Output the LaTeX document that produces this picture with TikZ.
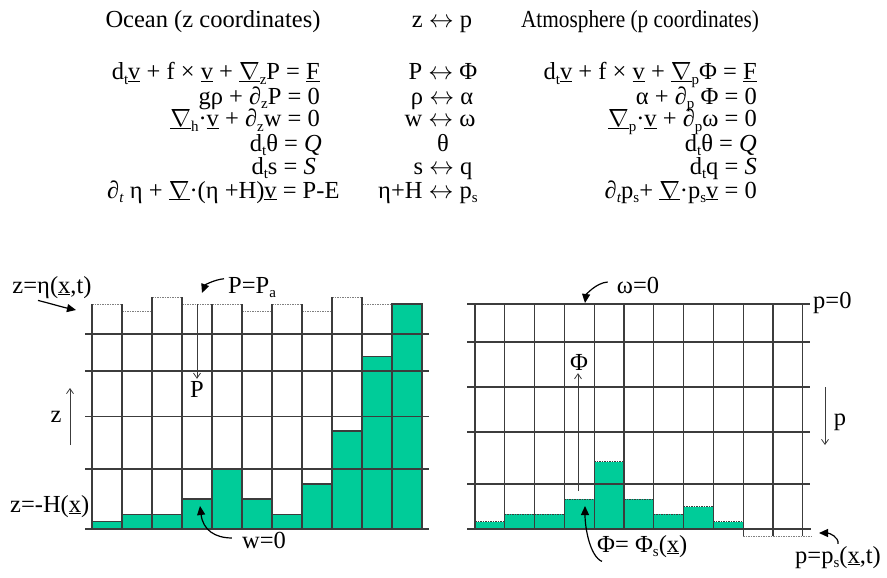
\documentclass[tikz,border=0pt]{standalone}
\usepackage{fontspec}
\setmainfont{Liberation Serif}
\usetikzlibrary{arrows.meta}
\definecolor{grn}{HTML}{00CC99}
\definecolor{gl}{HTML}{3C3C3C}
\newcommand\lo[1]{\raisebox{-0.4ex}{\fontsize{15}{15}\selectfont #1}}
\newcommand\ul[1]{\underline{#1}}
\newcommand\nab{$\nabla$}
\newcommand\lra{$\leftrightarrow$}
\begin{document}
\begin{tikzpicture}[x=1pt,y=-1pt,
  txt/.style={inner sep=0pt, font=\fontsize{24.5}{27}\selectfont},
  gridline/.style={draw=gl, line width=1.2pt},
  dotline/.style={draw=gray, line width=0.8pt, dash pattern=on 1.5pt off 1pt},
  darkdot/.style={draw=gl, line width=0.8pt, dash pattern=on 1.5pt off 1pt},
  thinarrow/.style={draw=gl, line width=0.8pt, -{Straight Barb[length=5pt,width=7pt]}},
  curvearrow/.style={draw=black, line width=1.2pt, -{Triangle[length=9pt,width=8pt]}}]
\useasboundingbox (0,0) rectangle (887,578);

% ---------- headers ----------
\node[txt, anchor=base] (hoc) at (213,28) {Ocean (z coordinates)};
\node[txt, anchor=base] (hzp) at (442,28) {z \lra{} p};
\node[txt, anchor=base] (hat) at (640,28) {\scalebox{0.87}[1]{Atmosphere (p coordinates)}};

% ---------- ocean equations ----------
\node[txt, anchor=base east] (o1) at (320,80) {d\lo{t}\ul{v} + f × \ul{v} + \ul{\nab}\lo{z}P = \ul{F}};
\node[txt, anchor=base east] (o2) at (320,104) {gρ + ∂\lo{z}P = 0};
\node[txt, anchor=base east] (o3) at (320,127) {\ul{\nab}\lo{h}·\ul{v} + ∂\lo{z}w = 0};
\node[txt, anchor=base east] (o4) at (322,151) {d\lo{t}θ = \textit{Q}};
\node[txt, anchor=base east] (o5) at (316,174) {d\lo{t}s = \textit{S}};
\node[txt, anchor=base west] (o6) at (107,198) {∂\lo{\textit{t}} η + \ul{\nab}·(η +H)\ul{v} = P-E};

% ---------- correspondences ----------
\node[txt, anchor=base] (m1) at (443,80) {P \lra{} Φ};
\node[txt, anchor=base] (m2) at (442,104) {ρ \lra{} α};
\node[txt, anchor=base] (m3) at (440,127) {w \lra{} ω};
\node[txt, anchor=base] (m4) at (443,151) {θ};
\node[txt, anchor=base] (m5) at (443,174) {s \lra{} q};
\node[txt, anchor=base] (m6) at (428,198) {η+H \lra{} p\lo{s}};

% ---------- atmosphere equations ----------
\node[txt, anchor=base east] (a1) at (757,80) {d\lo{t}\ul{v} + f × \ul{v} + \ul{\nab}\lo{p}Φ = \ul{F}};
\node[txt, anchor=base east] (a2) at (757,104) {α + ∂\lo{p} Φ = 0};
\node[txt, anchor=base east] (a3) at (757,127) {\ul{\nab}\lo{p}·\ul{v} + ∂\lo{p}ω = 0};
\node[txt, anchor=base east] (a4) at (757,151) {d\lo{t}θ = \textit{Q}};
\node[txt, anchor=base east] (a5) at (757,174) {d\lo{t}q = \textit{S}};
\node[txt, anchor=base east] (a6) at (757,198) {∂\lo{\textit{t}}p\lo{s}+ \ul{\nab}·p\lo{s}\ul{v} = 0};

% ---------- left (ocean) grid ----------
\foreach \i/\g in {0/521.7,1/514.3,2/514.3,3/499,4/469,5/499,6/514.3,7/484,8/431,9/356.7,10/304}{
  \fill[grn] (92+30*\i,\g) rectangle (122+30*\i,529);
  \draw[gridline] (92+30*\i,\g) rectangle (122+30*\i,529);
}
\foreach \i/\t in {0/304,1/311,2/297,3/304,4/304,5/311,6/304,7/311,8/297,9/304}{
  \draw[dotline] (92+30*\i,\t) -- (122+30*\i,\t);
  \draw[gridline] (92+30*\i,\t) -- (92+30*\i,529);
  \draw[gridline] (122+30*\i,\t) -- (122+30*\i,529);
}
\foreach \y in {334,371,416.5,469,529}{
  \draw[gridline] (85,\y) -- (429,\y);
}

% ---------- right (atmosphere) grid ----------
\foreach \i/\g in {0/521.7,1/514,2/514,3/499,4/461.7,5/499,6/514,7/506.7,8/521.7}{
  \fill[grn] (475+29.8*\i,\g) rectangle (504.8+29.8*\i,529);
  \draw[darkdot] (475+29.8*\i,\g) -- (504.8+29.8*\i,\g);
}
\foreach \i in {0,...,9}{
  \draw[gridline] (475+29.8*\i,304) -- (475+29.8*\i,529);
}
\foreach \i in {9,10,11}{
  \draw[gridline] (475+29.8*\i,304) -- (475+29.8*\i,536);
}
\foreach \y in {304,342,387,432,484}{
  \draw[gridline] (467,\y) -- (810,\y);
}
\draw[gridline] (467,529) -- (811,529);
\draw[dotline] (743.2,536) -- (811,536);

% ---------- left labels and arrows ----------
\node[txt, anchor=base] (leta) at (52,293) {z=η(\ul{x},t)};
\coordinate (etatip) at (76,310);
\draw[curvearrow] ([xshift=-14pt,yshift=-2pt]leta.south) .. controls +(12,3) and +(-14,-3) .. (etatip);

\node[txt, anchor=base west] (ppa) at (228,293) {P=P\lo{a}};
\coordinate (ppatip) at (202,293);
\draw[curvearrow] ([xshift=-4pt,yshift=-2pt]ppa.north west) .. controls +(-10,1) and +(3,-8) .. (ppatip);

\coordinate (ptop) at (197,304);
\node[txt, anchor=base] (pl) at (197,397) {P};
\draw[thinarrow, shorten >=2pt] (ptop) -- (pl.north);

\node[txt, anchor=base] (zl) at (56,422) {z};
\coordinate (zbot) at (70,445);
\coordinate (ztop) at (70,388);
\draw[thinarrow] (zbot) -- (ztop);

\node[txt, anchor=base west] (zh) at (10,512) {z=-H(\ul{x})};

\node[txt, anchor=base] (w0) at (264,548) {w=0};
\coordinate (w0tip) at (200,506);
\draw[curvearrow] ([xshift=-10pt,yshift=2pt]w0.west) .. controls +(-17,0) and +(3,24) .. (w0tip);

% ---------- right labels and arrows ----------
\node[txt, anchor=base] (om) at (638,293) {ω=0};
\coordinate (omtip) at (585,303);
\draw[curvearrow] ([xshift=-9pt,yshift=3pt]om.west) .. controls +(-12,1) and +(1,-8) .. (omtip);

\node[txt, anchor=base west] (p0) at (813,308) {p=0};

\node[txt, anchor=base] (phl) at (579,370) {Φ};
\coordinate (phbot) at (578,491);
\draw[thinarrow, shorten >=3pt] (phbot) -- (phl.south -| phbot);

\node[txt, anchor=base] (pl2) at (840,425) {p};
\coordinate (ptop2) at (825,387);
\coordinate (pbot2) at (825,445);
\draw[thinarrow] (ptop2) -- (pbot2);

\node[txt, anchor=base west] (phs) at (597,552) {Φ= Φ\lo{s}(\ul{x})};
\coordinate (phstip) at (585,506);
\draw[curvearrow] ([xshift=5pt,yshift=-4pt]phs.south west) .. controls +(-12,-5) and +(0,22) .. (phstip);

\node[txt, anchor=base west] (pps) at (795,563) {p=p\lo{s}(\ul{x},t)};
\coordinate (ppstip) at (819,533);
\draw[curvearrow] ([xshift=43pt,yshift=2pt]pps.north west) .. controls +(1,-7) and +(10,0) .. (ppstip);
\end{tikzpicture}
\end{document}
